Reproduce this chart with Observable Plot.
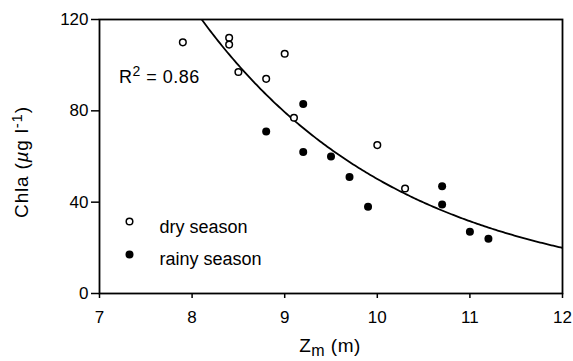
<!DOCTYPE html>
<html>
<head>
<meta charset="utf-8">
<script src="https://cdn.jsdelivr.net/npm/d3@7"></script>
<script src="https://cdn.jsdelivr.net/npm/@observablehq/plot@0.6"></script>
<style>
  body { margin: 0; background: #fff; }
  #chart svg { display: block; }
</style>
</head>
<body>
<div id="chart"></div>
<script>
// Mixing depth (Zm, m) and chlorophyll a (µg l-1), by season
const dryZm     = [7.9, 8.4, 8.4, 8.5, 8.8, 9.0, 9.1, 10.0, 10.3];
const dryChla   = [110, 112, 109, 97, 94, 105, 77, 65, 46];
const rainyZm   = [8.8, 9.2, 9.2, 9.5, 9.7, 9.9, 10.7, 10.7, 11.0, 11.2];
const rainyChla = [71, 83, 62, 60, 51, 38, 47, 39, 27, 24];

const xTicks = [7, 8, 9, 10, 11, 12];
const yTicks = [0, 40, 80, 120];

// Exponential regression: Chla = fitA * exp(fitB * Zm)
const fitA = 4990;
const fitB = -0.46;
const rSquared = "0.86";

const seasonNames = ["dry season", "rainy season"];

const dry = dryZm.map((z, i) => ({zm: z, chla: dryChla[i]}));
const rainy = rainyZm.map((z, i) => ({zm: z, chla: rainyChla[i]}));
const fitCurve = d3.range(8.0, 12.0001, 0.02).map(z => ({zm: z, chla: fitA * Math.exp(fitB * z)}));

const font = '"Liberation Sans", Arial, Helvetica, sans-serif';
const legendText = {frameAnchor: "top-left", dx: 60, fontSize: 18, textAnchor: "start", lineAnchor: "middle", fill: "#000"};

const chart = Plot.plot({
  width: 573,
  height: 361,
  marginLeft: 99,
  marginRight: 11,
  marginTop: 19,
  marginBottom: 68,
  style: {fontFamily: font, background: "#fff", color: "#000"},
  x: {domain: [7, 12], label: null},
  y: {domain: [0, 120], label: null},
  marks: [
    Plot.axisX({ticks: xTicks, tickFormat: "d", tickSize: 5, tickPadding: 12, fontSize: 17, label: null, strokeWidth: 1.5}),
    Plot.axisY({ticks: yTicks, tickFormat: "d", tickSize: 8, tickPadding: 3, fontSize: 17, label: null, strokeWidth: 1.5}),
    Plot.frame({stroke: "#000", strokeWidth: 1.8}),
    Plot.line(fitCurve, {x: "zm", y: "chla", stroke: "#000", strokeWidth: 1.8, clip: true}),
    Plot.dot(dry, {x: "zm", y: "chla", r: 3.3, stroke: "#000", strokeWidth: 1.5, fill: "#fff"}),
    Plot.dot(rainy, {x: "zm", y: "chla", r: 4, fill: "#000", stroke: "none"}),
    // legend
    Plot.dot([seasonNames[0]], {frameAnchor: "top-left", dx: 30, dy: 202, r: 3.3, stroke: "#000", strokeWidth: 1.5, fill: "#fff"}),
    Plot.dot([seasonNames[1]], {frameAnchor: "top-left", dx: 30, dy: 235, r: 4, fill: "#000", stroke: "none"}),
    Plot.text([seasonNames[0]], {...legendText, text: d => d, dy: 208}),
    Plot.text([seasonNames[1]], {...legendText, text: d => d, dy: 240})
  ]
});

document.getElementById("chart").appendChild(chart);

const svg = d3.select(chart);

// R² annotation
const r2 = svg.append("text")
  .attr("x", 119).attr("y", 83)
  .attr("text-anchor", "start")
  .attr("font-family", font).attr("font-size", 18).attr("fill", "#000")
  .style("letter-spacing", "0.5px");
r2.append("tspan").text("R");
r2.append("tspan").attr("font-size", 14).attr("dy", -7).text("2");
r2.append("tspan").attr("dy", 7).text(" = " + rSquared);

// x axis title: Zm (m)
const xt = svg.append("text")
  .attr("x", 330).attr("y", 352)
  .attr("text-anchor", "middle")
  .attr("font-family", font).attr("font-size", 19).attr("fill", "#000")
  .style("letter-spacing", "0.5px");
xt.append("tspan").text("Z");
xt.append("tspan").attr("font-size", 16).attr("dy", 4).text("m");
xt.append("tspan").attr("dy", -4).text(" (m)");

// y axis title: Chla (µg l-1)
const yt = svg.append("text")
  .attr("transform", "translate(28,162) rotate(-90)")
  .attr("text-anchor", "middle")
  .attr("font-family", font).attr("font-size", 19).attr("fill", "#000")
  .style("letter-spacing", "0.8px");
yt.append("tspan").text("Chla (");
yt.append("tspan").attr("font-style", "italic").text("µ");
yt.append("tspan").text("g l");
yt.append("tspan").attr("font-size", 15).attr("dy", -6).text("-1");
yt.append("tspan").attr("dy", 6).text(")");
</script>
</body>
</html>
